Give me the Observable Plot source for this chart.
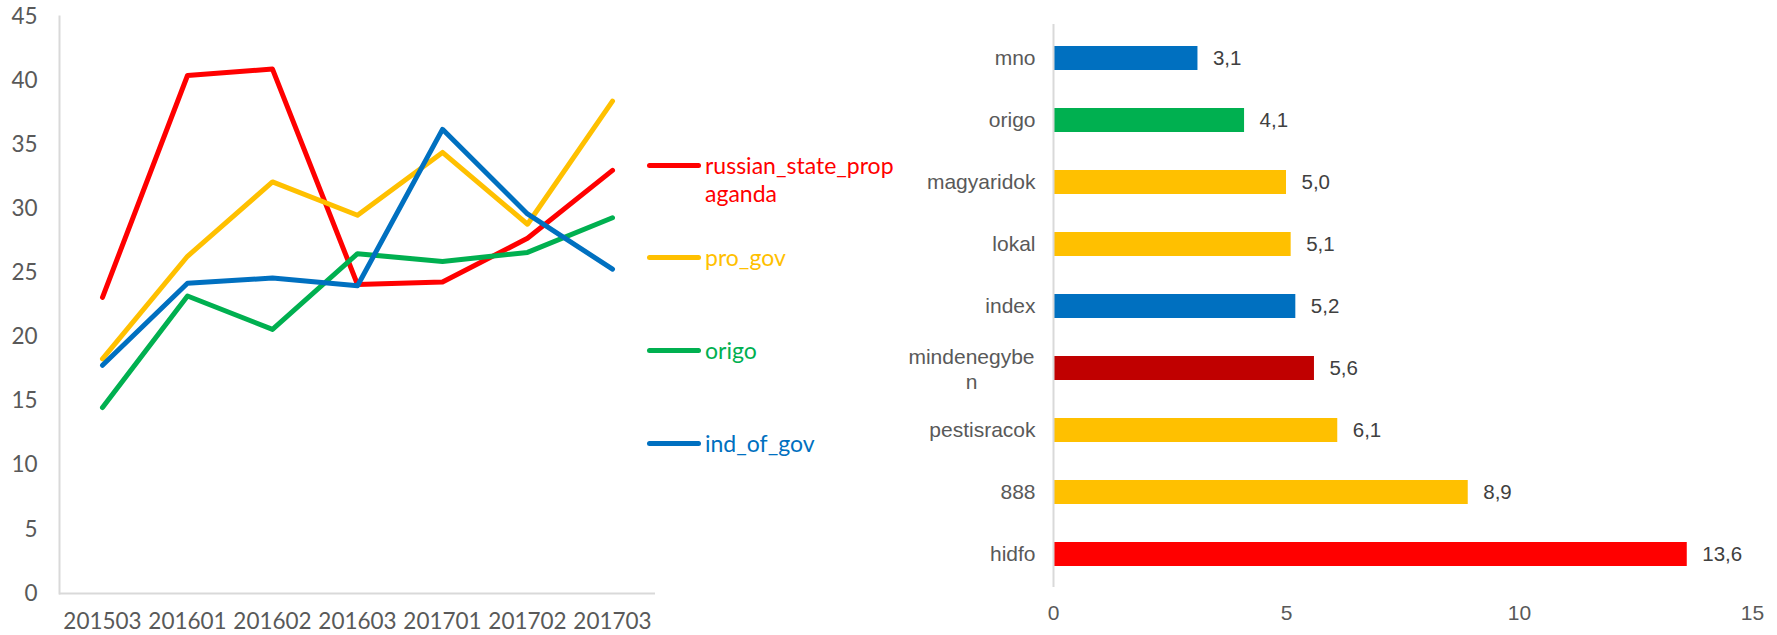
<!DOCTYPE html>
<html>
<head>
<meta charset="utf-8">
<script src="https://cdn.jsdelivr.net/npm/d3@7"></script>
<script src="https://cdn.jsdelivr.net/npm/@observablehq/plot@0.6"></script>
<style>
  html, body { margin: 0; padding: 0; background: #fff; }
  #root { position: relative; width: 1777px; height: 635px; overflow: hidden; background: #fff; }
  #left, #right, #legend { position: absolute; top: 0; }
  #left { left: 0; }
  #right { left: 880px; }
  .leg-item { position: absolute; left: 647px; height: 28px; }
  .leg-line { position: absolute; left: 0; width: 54px; height: 5px; border-radius: 3px; }
  .leg-text { position: absolute; left: 58px; top: 0; font-family: Lato, sans-serif; font-size: 23px; line-height: 28px; white-space: nowrap; }
</style>
</head>
<body>
<div id="root">
  <div id="left"></div>
  <div id="legend"></div>
  <div id="right"></div>
</div>
<script>
// ---- Left chart data ----
const months = ["201503", "201601", "201602", "201603", "201701", "201702", "201703"];
const seriesNames = ["russian_state_propaganda", "pro_gov", "origo", "ind_of_gov"];
const russianStatePropaganda = [23.1, 40.4, 40.9, 24.1, 24.3, 27.7, 33.0];
const proGov = [18.3, 26.3, 32.1, 29.5, 34.4, 28.8, 38.4];
const origoSeries = [14.5, 23.2, 20.6, 26.5, 25.9, 26.6, 29.3];
const indOfGov = [17.8, 24.2, 24.6, 24.0, 36.2, 29.6, 25.3];
const yTicks = [0, 5, 10, 15, 20, 25, 30, 35, 40, 45];

// ---- Right chart data ----
const outlets = ["mno", "origo", "magyaridok", "lokal", "index", "mindenegyben", "pestisracok", "888", "hidfo"];
const outletValues = [3.1, 4.1, 5.0, 5.1, 5.2, 5.6, 6.1, 8.9, 13.6];
const outletGroups = ["ind_of_gov", "origo", "pro_gov", "pro_gov", "ind_of_gov", "other", "pro_gov", "pro_gov", "russian_state_propaganda"];
const xTicks = [0, 5, 10, 15];

// ---- styles (kept apart from data) ----
const groupDomain = ["russian_state_propaganda", "pro_gov", "origo", "ind_of_gov", "other"];
const groupColors = ["#FF0000", "#FFC000", "#00B050", "#0070C0", "#C00000"];
const colorOf = d3.scaleOrdinal(groupDomain, groupColors);

const seriesValues = [russianStatePropaganda, proGov, origoSeries, indOfGov];
const lineRows = [];
seriesNames.forEach((s, i) => months.forEach((m, j) => lineRows.push({series: s, month: m, value: seriesValues[i][j]})));

const leftPlot = Plot.plot({
  width: 660,
  height: 635,
  marginLeft: 59,
  marginRight: 5,
  marginTop: 16,
  marginBottom: 42,
  style: {fontFamily: "Lato, sans-serif", fontSize: "22.5px", color: "#595959", background: "transparent", overflow: "visible"},
  x: {type: "point", domain: months, padding: 0.5},
  y: {domain: [0, 45]},
  color: {domain: groupDomain, range: groupColors},
  marks: [
    Plot.frame({anchor: "left", stroke: "#d9d9d9", strokeWidth: 2}),
    Plot.ruleY([0], {stroke: "#d9d9d9", strokeWidth: 2}),
    Plot.axisY({ticks: yTicks, tickSize: 0, tickPadding: 22, label: null, fontSize: 22.5}),
    Plot.axisX({tickSize: 0, tickPadding: 20, label: null, fontSize: 22.5}),
    Plot.line(lineRows, {x: "month", y: "value", z: "series", stroke: "series", strokeWidth: 5, strokeLinecap: "round", strokeLinejoin: "round"})
  ]
});
document.getElementById("left").appendChild(leftPlot);

// ---- legend ----
const legendTops = [151, 243, 336, 429];
const legend = document.getElementById("legend");
seriesNames.forEach((s, i) => {
  const item = document.createElement("div");
  item.className = "leg-item";
  item.style.top = legendTops[i] + "px";
  const line = document.createElement("div");
  line.className = "leg-line";
  line.style.background = colorOf(s);
  line.style.top = (14 - 2.5) + "px";
  const text = document.createElement("div");
  text.className = "leg-text";
  text.style.color = colorOf(s);
  // Excel wraps long legend entries at 18 characters
  text.innerHTML = s.length > 18 ? s.slice(0, 18) + "<br>" + s.slice(18) : s;
  item.appendChild(line);
  item.appendChild(text);
  legend.appendChild(item);
});

// ---- right chart ----
const barRows = outlets.map((o, i) => ({outlet: o, value: outletValues[i], group: outletGroups[i]}));
const wrapLabel = (s) => s.length > 11 ? s.slice(0, 11) + "\n" + s.slice(11) : s;
const fmt = (v) => v.toFixed(1).replace(".", ",");

const rightPlot = Plot.plot({
  width: 897,
  height: 635,
  marginLeft: 173,
  marginRight: 25,
  marginTop: 24,
  marginBottom: 48,
  style: {fontFamily: "'Liberation Sans', Arial, sans-serif", fontSize: "21px", color: "#595959", background: "transparent", overflow: "visible"},
  x: {domain: [0, 15]},
  y: {domain: outlets, paddingInner: 0.62, paddingOuter: 0.31},
  color: {domain: groupDomain, range: groupColors},
  marks: [
    Plot.barX(barRows, {x: "value", y: "outlet", fill: "group"}),
    Plot.ruleX([0], {stroke: "#d9d9d9", strokeWidth: 2}),
    Plot.axisX({ticks: xTicks, tickSize: 0, tickPadding: 18, label: null, fontSize: 21}),
    Plot.axisY({tickSize: 0, tickPadding: 18, label: null, fontSize: 21,
      tickFormat: (d) => wrapLabel(d).includes("\n") ? "" : d}),
    Plot.text(barRows.filter(d => wrapLabel(d.outlet).includes("\n")), {
      x: 0, y: "outlet", text: (d) => wrapLabel(d.outlet), dx: -82, textAnchor: "middle",
      lineAnchor: "middle", lineHeight: 1.2, fontSize: 21, fill: "#595959"}),
    Plot.text(barRows, {x: "value", y: "outlet", text: (d) => fmt(d.value), dx: 15, textAnchor: "start", fontSize: 20.5, fill: "#404040"})
  ]
});
document.getElementById("right").appendChild(rightPlot);
</script>
</body>
</html>
